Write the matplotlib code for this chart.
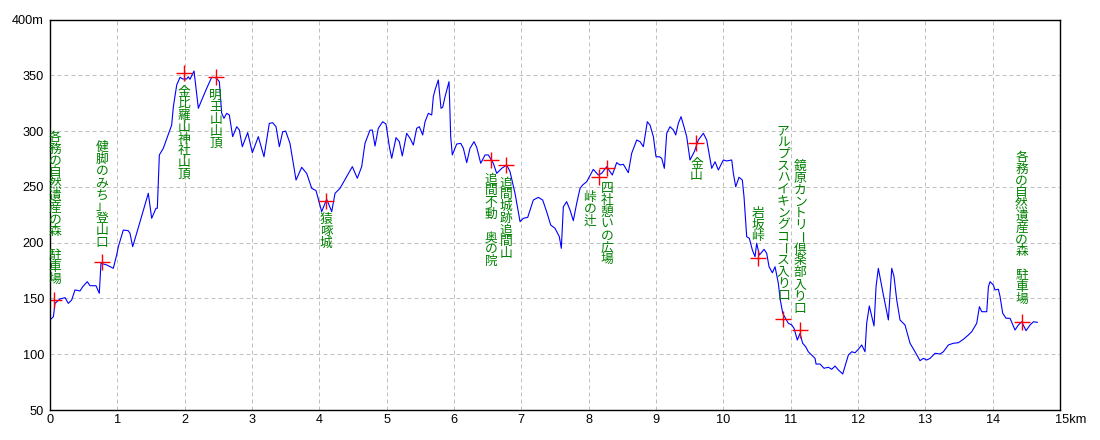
import matplotlib
matplotlib.use("Agg")
import matplotlib.pyplot as plt

# 距離 (km) と 標高 (m)
dist_km = [0.000, 0.050, 0.074, 0.149, 0.223, 0.272, 0.322, 0.371, 0.446, 0.486,
           0.554, 0.594, 0.683, 0.732, 0.757, 0.842, 0.940, 0.990, 1.015, 1.089,
           1.163, 1.188, 1.228, 1.287, 1.460, 1.510, 1.574, 1.594, 1.624, 1.683,
           1.807, 1.832, 1.882, 1.931, 1.970, 2.030, 2.054, 2.079, 2.139, 2.203,
           2.253, 2.327, 2.401, 2.465, 2.515, 2.550, 2.584, 2.624, 2.663, 2.713,
           2.773, 2.812, 2.856, 2.936, 3.005, 3.094, 3.178, 3.257, 3.307, 3.357,
           3.406, 3.456, 3.500, 3.564, 3.654, 3.738, 3.812, 3.887, 3.951, 3.995,
           4.035, 4.109, 4.184, 4.233, 4.307, 4.490, 4.564, 4.629, 4.678, 4.753,
           4.787, 4.827, 4.876, 4.941, 4.990, 5.040, 5.075, 5.139, 5.188, 5.232,
           5.297, 5.347, 5.396, 5.446, 5.485, 5.535, 5.570, 5.619, 5.669, 5.693,
           5.718, 5.767, 5.807, 5.832, 5.867, 5.926, 5.951, 5.975, 6.040, 6.100,
           6.139, 6.189, 6.238, 6.297, 6.337, 6.397, 6.461, 6.510, 6.584, 6.634,
           6.709, 6.783, 6.832, 6.906, 6.981, 7.030, 7.095, 7.178, 7.253, 7.317,
           7.376, 7.436, 7.500, 7.564, 7.594, 7.624, 7.673, 7.723, 7.772, 7.822,
           7.872, 7.911, 7.971, 8.069, 8.143, 8.193, 8.268, 8.351, 8.416, 8.466,
           8.515, 8.589, 8.639, 8.714, 8.763, 8.812, 8.871, 8.911, 8.961, 9.000,
           9.050, 9.085, 9.124, 9.159, 9.208, 9.258, 9.293, 9.332, 9.372, 9.416,
           9.456, 9.505, 9.569, 9.629, 9.703, 9.753, 9.792, 9.827, 9.877, 9.926,
           10.000, 10.050, 10.125, 10.149, 10.184, 10.233, 10.282, 10.307, 10.347, 10.386,
           10.431, 10.471, 10.495, 10.535, 10.605, 10.644, 10.679, 10.728, 10.768, 10.817,
           10.842, 10.882, 10.931, 10.966, 11.016, 11.050, 11.099, 11.139, 11.178, 11.223,
           11.262, 11.312, 11.362, 11.377, 11.436, 11.495, 11.560, 11.610, 11.659, 11.708,
           11.773, 11.857, 11.907, 11.956, 12.005, 12.055, 12.104, 12.129, 12.168, 12.238,
           12.268, 12.302, 12.377, 12.451, 12.501, 12.535, 12.575, 12.624, 12.698, 12.773,
           12.847, 12.921, 12.971, 13.020, 13.070, 13.144, 13.218, 13.268, 13.342, 13.416,
           13.491, 13.565, 13.639, 13.689, 13.763, 13.803, 13.838, 13.912, 13.937, 13.961,
           14.010, 14.035, 14.085, 14.110, 14.149, 14.199, 14.258, 14.332, 14.382, 14.431,
           14.496, 14.555, 14.605, 14.664]
elev_m = [130.7, 133.6, 145.6, 149.5, 150.7, 145.6, 148.6, 157.6, 156.7, 160.5,
          165.0, 161.4, 161.4, 154.6, 181.5, 180.0, 177.0, 188.9, 196.4, 211.3,
          210.7, 208.4, 196.4, 208.4, 244.2, 221.8, 230.8, 230.8, 278.6, 284.6,
          305.4, 321.8, 341.3, 348.2, 346.7, 346.7, 348.7, 346.4, 353.8, 320.4,
          327.8, 338.3, 348.2, 347.8, 344.3, 315.9, 311.4, 315.9, 314.4, 295.0,
          303.9, 301.0, 286.0, 298.6, 280.6, 295.0, 277.0, 306.9, 307.5, 303.9,
          286.0, 299.4, 300.0, 289.0, 256.1, 267.5, 262.1, 248.7, 246.6, 236.7,
          227.8, 238.9, 227.8, 244.2, 248.7, 268.1, 257.7, 268.1, 289.0, 300.9,
          300.9, 286.6, 302.5, 308.4, 306.3, 286.0, 275.6, 294.1, 290.5, 277.7,
          298.0, 293.5, 287.5, 302.5, 303.9, 296.5, 308.4, 315.9, 314.4, 330.8,
          336.8, 345.8, 320.4, 321.3, 330.8, 344.3, 295.0, 278.6, 288.4, 289.0,
          284.6, 271.7, 284.6, 290.5, 285.5, 271.1, 278.6, 278.6, 271.1, 262.1,
          266.6, 269.6, 263.6, 244.2, 218.8, 221.8, 222.7, 238.2, 240.6, 238.2,
          227.8, 215.8, 212.9, 205.4, 194.9, 232.2, 236.7, 229.3, 219.7, 235.2,
          248.7, 251.7, 254.6, 265.7, 260.6, 262.1, 268.1, 260.6, 271.7, 269.6,
          270.2, 262.7, 280.1, 292.0, 290.5, 286.0, 308.4, 305.4, 295.0, 277.0,
          277.0, 275.6, 266.6, 298.0, 303.9, 301.0, 296.5, 307.0, 312.9, 303.9,
          295.0, 274.1, 281.5, 292.0, 298.0, 292.0, 278.6, 266.6, 272.5, 265.1,
          274.1, 273.2, 274.1, 262.1, 250.1, 258.6, 256.1, 241.2, 205.3, 203.9,
          193.4, 187.4, 199.4, 188.9, 194.0, 190.4, 178.4, 173.0, 178.4, 163.6,
          150.1, 136.7, 131.3, 127.7, 126.2, 123.2, 112.7, 118.7, 109.8, 106.7,
          102.2, 99.3, 96.3, 91.2, 91.2, 87.4, 88.3, 86.5, 89.4, 85.9,
          82.3, 99.3, 102.2, 101.3, 104.4, 108.3, 102.2, 127.7, 143.2, 125.3,
          160.5, 177.0, 153.1, 130.7, 177.0, 169.5, 148.6, 130.7, 126.2, 109.8,
          102.2, 94.2, 96.3, 94.8, 96.3, 100.8, 100.2, 102.2, 108.3, 109.8,
          110.3, 113.4, 117.2, 120.2, 127.7, 142.6, 138.1, 138.1, 160.5, 165.0,
          162.0, 157.6, 158.2, 151.6, 136.7, 132.2, 132.2, 121.7, 126.2, 129.1,
          121.1, 126.2, 129.1, 128.6]

# 地点
mark_km = [0.06, 0.77, 1.99, 2.46, 4.10, 6.55, 6.77, 8.15, 8.27, 9.60,
           10.51, 10.89, 11.14, 14.43]
mark_m = [148.6, 182.4, 352.0, 348.7, 237.0, 274.0, 269.6, 259.0, 267.0, 289.0,
          186.5, 132.0, 121.7, 129.0]
mark_names = ["各務の自然遺産の森　駐車場", "健脚のみち」登山口", "金比羅山神社山頂",
              "明王山山頂", "猿啄城", "追間不動　奥の院", "追間城跡追間山",
              "峠の辻", "四社憩いの広場", "金山", "岩坂峠",
              "アルプスハイキングコース入り口", "鏡原カントリー倶楽部入り口",
              "各務の自然遺産の森　駐車場"]

# 文字の置き方: 上/下, 横ずれ(px), 十字からの間隔(px)
label_pos = [("u", 1, 15), ("u", 0, 14), ("d", 0, 13), ("d", 0, 13), ("d", 0, 12),
             ("d", 0, 13), ("d", 0, 12), ("d", -9, 15), ("d", 0, 15), ("d", 0, 14),
             ("u", 0, 15), ("u", 0, 17), ("u", 0, 16), ("u", 0, 17)]

STEP = 11.8   # 1文字分の高さ (px)
PT = 0.72     # px -> pt (dpi 100)
jp = ["Noto Sans CJK JP", "DejaVu Sans"]
num = ["Liberation Sans Narrow", "Liberation Sans", "DejaVu Sans"]

fig = plt.figure(figsize=(11, 4.4), dpi=100)
ax = fig.add_axes([50 / 1100, 30 / 440, 1010 / 1100, 390.5 / 440])
ax.set_xlim(0, 15)
ax.set_ylim(50, 400)

ax.set_xticks(range(16))
ax.set_xticklabels([str(i) for i in range(15)] + [""])
ax.set_yticks(range(50, 401, 50))
ax.set_yticklabels([str(v) for v in range(50, 400, 50)] + ["400m"])
ax.tick_params(length=0, colors="black")
ax.tick_params(axis="x", pad=3.2)
ax.tick_params(axis="y", pad=4.3)
for t in ax.get_xticklabels() + ax.get_yticklabels():
    t.set_family(num)
    t.set_fontsize(9.2)
ax.annotate("15km", xy=(15, 50), xytext=(-5 * PT, -3.2), textcoords="offset points",
            ha="left", va="top", fontsize=9.2, family=num)

ax.grid(True, color="#c0c0c0", linestyle=(0, (4, 3)), linewidth=0.72)
ax.set_axisbelow(True)
for s in ax.spines.values():
    s.set_linewidth(1.0)
    s.set_color("black")

ax.plot(dist_km, elev_m, color="#0000ff", linewidth=0.8)
ax.plot(mark_km, mark_m, ls="", marker="+", color="#ff0000", markersize=12,
        markeredgewidth=1.0)

# 縦書きラベル (1文字ずつ並べる)
for km, m, name, (side, dx, gap) in zip(mark_km, mark_m, mark_names, label_pos):
    n = len(name)
    top = gap + n * STEP if side == "u" else -gap
    for i, ch in enumerate(name):
        if ch == "　":
            continue
        rot = -90 if ch == "ー" else 0
        yc = top - (i + 0.5) * STEP
        ax.annotate(ch, xy=(km, m), xytext=(dx * PT, yc * PT), textcoords="offset points",
                    ha="center", va="center", fontsize=9.2, color="#008000",
                    family=jp, rotation=rot)

fig.savefig("out.png", dpi=100)
